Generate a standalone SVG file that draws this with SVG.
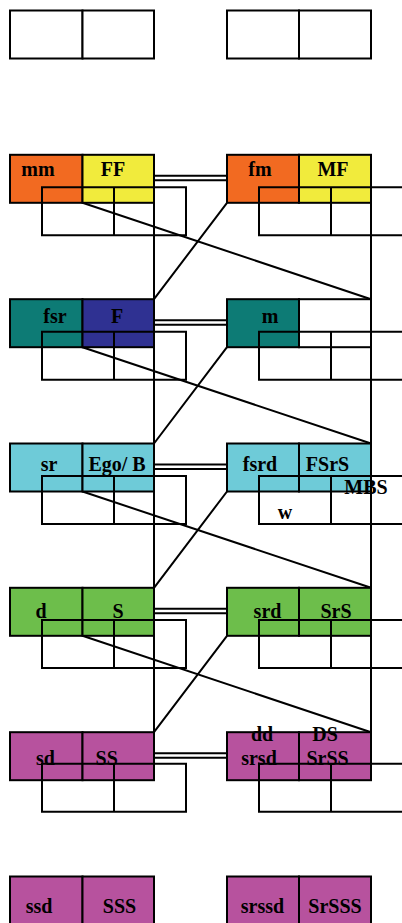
<svg xmlns="http://www.w3.org/2000/svg" width="402" height="923" viewBox="0 0 402 923">
<style>
.c{stroke:#000;stroke-width:2;fill:none}
.b{stroke:#000;stroke-width:2}
.o{stroke:#000;stroke-width:2;fill:none}
.t{font-family:"Liberation Serif","Times New Roman",serif;font-weight:bold;font-size:20px;text-anchor:middle;fill:#000}
.or{fill:#F26A21}.ye{fill:#F1EB3C}.te{fill:#0D7B75}.bl{fill:#2F3192}.cy{fill:#6ECBD8}.gr{fill:#6DBE4B}.mg{fill:#B7529E}.wh{fill:#fff}
</style>
<rect width="402" height="923" fill="#fff"/>
<g id="connectors">
<path class="c" d="M154 202.8V299.2M371 202.8V299.2M82.5 202.8L371 299.2M227 202.8L154 299.2"/>
<path class="c" d="M154 347.2V443.5M371 347.2V443.5M82.5 347.2L371 443.5M227 347.2L154 443.5"/>
<path class="c" d="M154 491.5V587.8M371 491.5V587.8M82.5 491.5L371 587.8M227 491.5L154 587.8"/>
<path class="c" d="M154 635.8V732.2M371 635.8V732.2M82.5 635.8L371 732.2M227 635.8L154 732.2"/>
<path class="c" stroke-width="1.6" d="M154 175.8H227M154 180.3H227"/>
<path class="c" stroke-width="1.6" d="M154 320.2H227M154 324.7H227"/>
<path class="c" stroke-width="1.6" d="M154 464.5H227M154 469H227"/>
<path class="c" stroke-width="1.6" d="M154 608.8H227M154 613.3H227"/>
<path class="c" stroke-width="1.6" d="M154 753.2H227M154 757.7H227"/>
</g>
<g id="row0">
<rect class="b wh" x="10" y="10.5" width="72.5" height="48"/><rect class="b wh" x="82.5" y="10.5" width="71.5" height="48"/>
<rect class="b wh" x="227" y="10.5" width="72" height="48"/><rect class="b wh" x="299" y="10.5" width="72" height="48"/>
</g>
<g id="row1">
<rect class="b or" x="10" y="154.8" width="72.5" height="48"/><rect class="b ye" x="82.5" y="154.8" width="71.5" height="48"/>
<rect class="b or" x="227" y="154.8" width="72" height="48"/><rect class="b ye" x="299" y="154.8" width="72" height="48"/>
<text class="t" x="38" y="176">mm</text><text class="t" x="113" y="176">FF</text>
<text class="t" x="260" y="176">fm</text><text class="t" x="333" y="176">MF</text>
<path class="o" d="M42 187.3H186V235.3H42ZM114 187.3V235.3M259 187.3H403V235.3H259ZM331 187.3V235.3"/>
</g>
<g id="row2">
<rect class="b te" x="10" y="299.2" width="72.5" height="48"/><rect class="b bl" x="82.5" y="299.2" width="71.5" height="48"/>
<rect class="b te" x="227" y="299.2" width="72" height="48"/><rect class="b wh" x="299" y="299.2" width="72" height="48"/>
<text class="t" x="55" y="323.3">fsr</text><text class="t" x="117" y="323.3">F</text>
<text class="t" x="270" y="323.3">m</text>
<path class="o" d="M42 331.7H186V379.7H42ZM114 331.7V379.7M259 331.7H403V379.7H259ZM331 331.7V379.7"/>
</g>
<g id="row3">
<rect class="b cy" x="10" y="443.5" width="72.5" height="48"/><rect class="b cy" x="82.5" y="443.5" width="71.5" height="48"/>
<rect class="b cy" x="227" y="443.5" width="72" height="48"/><rect class="b cy" x="299" y="443.5" width="72" height="48"/>
<text class="t" x="49" y="470.7">sr</text><text class="t" x="117" y="470.7">Ego/ B</text>
<text class="t" x="260" y="470.7">fsrd</text><text class="t" x="327.5" y="470.7">FSrS</text>
<path class="o" d="M42 476H186V524H42ZM114 476V524M259 476H403V524H259ZM331 476V524"/>
<text class="t" x="366" y="494">MBS</text><text class="t" x="285" y="519">w</text>
</g>
<g id="row4">
<rect class="b gr" x="10" y="587.8" width="72.5" height="48"/><rect class="b gr" x="82.5" y="587.8" width="71.5" height="48"/>
<rect class="b gr" x="227" y="587.8" width="72" height="48"/><rect class="b gr" x="299" y="587.8" width="72" height="48"/>
<text class="t" x="41" y="617.7">d</text><text class="t" x="118" y="617.7">S</text>
<text class="t" x="267.5" y="617.7">srd</text><text class="t" x="336" y="617.7">SrS</text>
<path class="o" d="M42 620H186V668H42ZM114 620V668M259 620H403V668H259ZM331 620V668"/>
</g>
<g id="row5">
<rect class="b mg" x="10" y="732.2" width="72.5" height="48"/><rect class="b mg" x="82.5" y="732.2" width="71.5" height="48"/>
<rect class="b mg" x="227" y="732.2" width="72" height="48"/><rect class="b mg" x="299" y="732.2" width="72" height="48"/>
<text class="t" x="45.5" y="765">sd</text><text class="t" x="106.7" y="765">SS</text>
<text class="t" x="262" y="740.7">dd</text><text class="t" x="325" y="740.7">DS</text>
<text class="t" x="259" y="765">srsd</text><text class="t" x="327.5" y="765">SrSS</text>
<path class="o" d="M42 763.7H186V811.7H42ZM114 763.7V811.7M259 763.7H403V811.7H259ZM331 763.7V811.7"/>
</g>
<g id="row6">
<rect class="b mg" x="10" y="876.5" width="72.5" height="48"/><rect class="b mg" x="82.5" y="876.5" width="71.5" height="48"/>
<rect class="b mg" x="227" y="876.5" width="72" height="48"/><rect class="b mg" x="299" y="876.5" width="72" height="48"/>
<text class="t" x="39" y="913">ssd</text><text class="t" x="119.5" y="913">SSS</text>
<text class="t" x="262.5" y="913">srssd</text><text class="t" x="335" y="913">SrSSS</text>
</g>
</svg>
